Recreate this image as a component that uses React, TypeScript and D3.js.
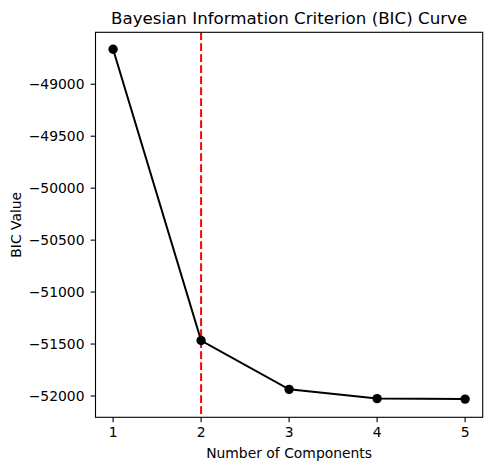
import React from "react";
import * as d3 from "d3";

const components = [1, 2, 3, 4, 5];
const bicValues = [-48663, -51466, -51936, -52025, -52030];
const xTicks = [1, 2, 3, 4, 5];
const yTicks = [-49000, -49500, -50000, -50500, -51000, -51500, -52000];
const optimalK = 2;

const W = 492, H = 470;
const L = 95.5, R = 482.7, T = 32.3, B = 417.3;
const font = "DejaVu Sans, sans-serif";

export default function App() {
  const x = d3.scaleLinear().domain([0.8, 5.2]).range([L, R]);
  const y = d3.scaleLinear().domain([-52205, -48500]).range([B, T]);
  const line = d3.line<number>().x((_, i) => x(components[i])).y((d) => y(d));
  const fmt = (v: number) => (v < 0 ? "\u2212" + Math.abs(v) : String(v));
  return (
    <svg width={W} height={H} style={{ position: "absolute", left: 0, top: 0, background: "#fff" }} fontFamily={font}>
      <rect x={0} y={0} width={W} height={H} fill="#fff" />
      <line x1={x(optimalK)} x2={x(optimalK)} y1={T} y2={B} stroke="#ff0000" strokeWidth={2} strokeDasharray="7.7,3.3" />
      <path d={line(bicValues) || ""} fill="none" stroke="#000" strokeWidth={2} />
      {bicValues.map((v, i) => (
        <circle key={i} cx={x(components[i])} cy={y(v)} r={4.7} fill="#000" />
      ))}
      <rect x={L} y={T} width={R - L} height={B - T} fill="none" stroke="#000" strokeWidth={1.1} />
      {xTicks.map((t) => (
        <g key={t}>
          <line x1={x(t)} x2={x(t)} y1={B} y2={B + 4.9} stroke="#000" strokeWidth={1.1} />
          <text x={x(t)} y={B + 19.5} textAnchor="middle" fontSize={13.9} fill="#000">{t}</text>
        </g>
      ))}
      {yTicks.map((t) => (
        <g key={t}>
          <line x1={L - 4.9} x2={L} y1={y(t)} y2={y(t)} stroke="#000" strokeWidth={1.1} />
          <text x={L - 11} y={y(t)} dy="0.35em" textAnchor="end" fontSize={13.9} fill="#000">{fmt(t)}</text>
        </g>
      ))}
      <text x={(L + R) / 2} y={458} textAnchor="middle" fontSize={13.9} fill="#000">Number of Components</text>
      <text transform={`translate(21,${(T + B) / 2}) rotate(-90)`} textAnchor="middle" fontSize={13.9} fill="#000">BIC Value</text>
      <text x={(L + R) / 2} y={24} textAnchor="middle" fontSize={16.7} fill="#000">Bayesian Information Criterion (BIC) Curve</text>
    </svg>
  );
}
